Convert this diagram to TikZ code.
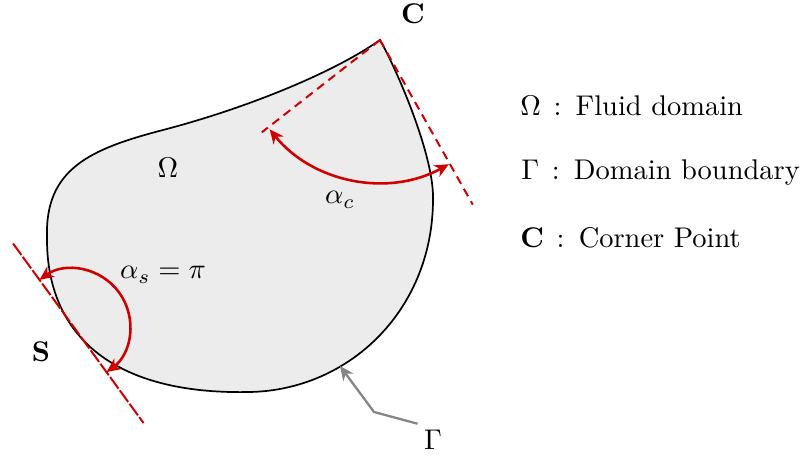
\documentclass[tikz,border=0pt]{standalone}
\usetikzlibrary{arrows.meta, positioning, calc}
\definecolor{cred}{HTML}{D00000}
\definecolor{cgrey}{HTML}{858585}
\definecolor{cfill}{HTML}{ECECEC}
\tikzset{
  every picture/.style={line width=0.6pt},
  fluid/.style={draw=black, fill=cfill, line width=0.6pt},
  tangent/.style={draw=cred, line width=0.7pt, dash pattern=on 3pt off 2pt},
  tangentS/.style={draw=cred, line width=0.7pt, dash pattern=on 5pt off 0.8pt},
  anglearrow/.style={{Stealth[length=5pt, width=4.5pt]}-{Stealth[length=5pt, width=4.5pt]}, draw=cred, line width=0.9pt},
  pointer/.style={-{Stealth[length=5pt, width=4.5pt]}, draw=cgrey, line width=0.8pt},
  ptlabel/.style={font=\bfseries},
  legend/.style={anchor=base west},
}

\begin{document}
\begin{tikzpicture}[x=0.01234cm, y=0.01234cm]
  \useasboundingbox (0,0) rectangle (809,459);
  % ---------- fluid domain
  \coordinate (C) at (380,419);
  \coordinate (S) at (73,133);
  \draw[fluid] (C) .. controls (330,384) and (240,349) .. (163,329)
    .. controls (90,310) and (45,290) .. (47,222)
    .. controls (46,122) and (115,64) .. (250,67)
    .. controls (350,69) and (434,150) .. (433,262)
    .. controls (433,305) and (398,387) .. (C) -- cycle;
  \node (omega) at (168,291) {$\Omega$};
  % ---------- corner point
  \draw[tangent] (C) -- +(218:150);
  \draw[tangent] (C) -- +(299.4:189);
  \draw[anglearrow] ($(C)+(219:142)$) arc[start angle=219, end angle=299, radius=142];
  \node[ptlabel] (clabel) at (413,445) {C};
  \node (alphac) at (340,259) {$\alpha_c$};
  % ---------- smooth point
  \draw[tangentS] ($(S)+(126:102)$) -- ($(S)+(-54:120)$);
  \draw[anglearrow] ($(S)+(126:57)$) arc[start angle=126, end angle=-54, radius=57];
  \node[ptlabel] (slabel) at (41,107) {S};
  \node (alphas) at (163,184) {$\alpha_s = \pi$};
  % ---------- boundary pointer
  \node[inner sep=2pt] (gamma) at (433,19) {$\Gamma$};
  \coordinate (gbend) at (374,47);
  \coordinate (gtip) at (340,93);
  \draw[pointer] (gamma.north west) -- (gbend) -- (gtip);
  % ---------- legend
  \node[legend] (legomega) at (510,343) {$\Omega\,:\,$ Fluid domain};
  \node[legend] (leggamma) at (511,279) {$\Gamma\,:\,$ Domain boundary};
  \node[legend] (legc) at (510,211) {$\mathbf{C}\,:\,$ Corner Point};
\end{tikzpicture}
\end{document}
